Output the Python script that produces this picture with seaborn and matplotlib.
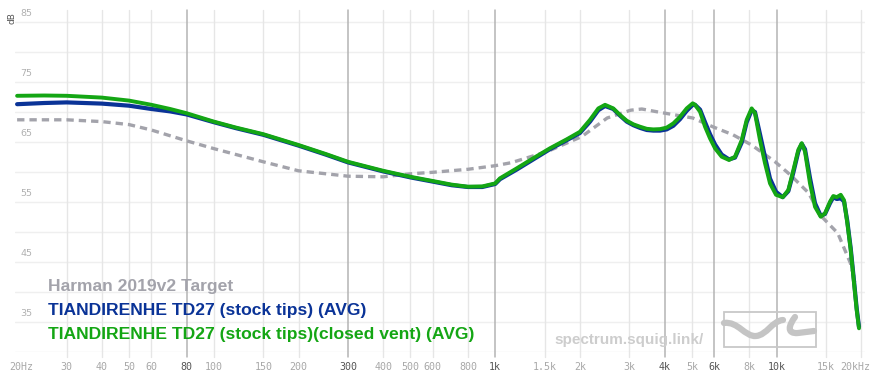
import numpy as np
import pandas as pd
import matplotlib
matplotlib.use("Agg")
import matplotlib.pyplot as plt
import matplotlib.transforms as mtransforms
import seaborn as sns
from matplotlib.path import Path
from matplotlib.patches import PathPatch, Rectangle

# ---------------- data ----------------
meas_freq = [20, 25, 30, 40, 50, 60, 70, 80, 100, 120, 150, 200, 250, 300, 400, 500,
             600, 700, 800, 900, 1000, 1040, 1192, 1366, 1565, 1796, 2000, 2173, 2326,
             2457, 2628, 2777, 2934, 3097, 3271, 3456, 3647, 3853, 4069, 4295, 4537,
             4793, 5035, 5130, 5345, 5568, 5800, 6042, 6380, 6776, 7116, 7516, 7830,
             8156, 8380, 8730, 9096, 9476, 9954, 10514, 11008, 11468, 11946, 12284,
             12616, 13144, 13694, 14348, 14860, 15482, 15906, 16356, 16900, 17364,
             17838, 18338, 18844, 19256, 19626]

green_db = [72.7, 72.75, 72.7, 72.4, 71.9, 71.2, 70.5, 69.8, 68.4, 67.4, 66.3, 64.5, 63.0,
            61.7, 60.2, 59.2, 58.5, 57.9, 57.55, 57.6, 58.1, 58.95, 60.6, 62.3, 63.95,
            65.45, 66.7, 68.7, 70.6, 71.2, 70.6, 69.5, 68.55, 67.95, 67.55, 67.2, 67.1,
            67.15, 67.4, 68.1, 69.2, 70.6, 71.45, 71.2, 70.05, 67.55, 65.6, 63.95, 62.55,
            62.0, 62.55, 65.3, 68.7, 70.6, 69.8, 65.3, 61.45, 58.1, 56.2, 55.8, 57.0,
            60.3, 63.7, 64.8, 63.4, 58.1, 54.2, 52.55, 53.1, 55.05, 56.0, 55.8, 56.2,
            55.3, 51.45, 47.0, 41.45, 37.0, 33.95]

blue_db = [71.3, 71.5, 71.6, 71.4, 71.05, 70.5, 70.1, 69.6, 68.3, 67.3, 66.2, 64.4, 62.9,
           61.6, 60.1, 59.1, 58.4, 57.8, 57.5, 57.5, 58.0, 58.8, 60.4, 62.1, 63.8, 65.3,
           66.5, 68.4, 70.3, 71.0, 70.5, 69.4, 68.4, 67.8, 67.35, 67.0, 66.9, 66.9, 67.1,
           67.7, 68.8, 70.2, 71.2, 71.2, 70.4, 68.3, 66.3, 64.6, 62.9, 62.1, 62.4, 64.9,
           68.3, 70.3, 70.0, 66.3, 62.5, 58.9, 56.7, 55.8, 56.8, 59.9, 63.4, 64.7, 63.8,
           59.0, 54.8, 52.7, 53.0, 54.8, 55.8, 55.5, 55.6, 55.1, 51.8, 47.3, 41.8, 37.3,
           34.2]

target_freq = [20, 30, 40, 50, 60, 80, 100, 150, 200, 300, 400, 500, 600, 800, 1000,
               1140, 1530, 2030, 2500, 3030, 3320, 3900, 5040, 5960, 7000, 8150, 9880,
               11200, 13000, 14300, 16500, 18300, 19000]
target_db = [68.7, 68.7, 68.4, 67.9, 67.0, 65.2, 63.9, 61.7, 60.2, 59.3, 59.2, 59.7, 59.95,
             60.45, 61.05, 61.55, 63.4, 65.9, 69.0, 70.3, 70.5, 69.9, 69.0, 67.5, 66.2,
             64.5, 61.7, 59.5, 56.5, 52.8, 49.8, 44.8, 41.7]

tick_freqs = [20, 30, 40, 50, 60, 80, 100, 150, 200, 300, 400, 500, 600, 800, 1000, 1500,
              2000, 3000, 4000, 5000, 6000, 8000, 10000, 15000, 20000]
tick_labels = ["20Hz", "30", "40", "50", "60", "80", "100", "150", "200", "300", "400",
               "500", "600", "800", "1k", "1.5k", "2k", "3k", "4k", "5k", "6k", "8k",
               "10k", "15k", "20kHz"]
major_ticks = [80, 300, 1000, 4000, 6000, 10000]
y_label_vals = [35, 45, 55, 65, 75, 85]

legend_names = ["Harman 2019v2 Target",
                "TIANDIRENHE TD27 (stock tips) (AVG)",
                "TIANDIRENHE TD27 (stock tips)(closed vent) (AVG)"]

C_TARGET = "#a3a3ab"
C_BLUE = "#0a3397"
C_GREEN = "#14a614"

# ---------------- figure ----------------
sns.set_theme(style="white")
plt.rcParams["font.family"] = ["Liberation Sans", "DejaVu Sans"]

W, H = 877, 379
PPD = 281.4      # pixels per decade
X20 = 17.1       # pixel of 20 Hz
fig = plt.figure(figsize=(W / 100, H / 100), dpi=100)
ax = fig.add_axes([15 / W, (H - 352) / H, 850 / W, 342 / H])

x_lo = 20 * 10 ** ((15 - X20) / PPD)
x_hi = 20 * 10 ** ((865 - X20) / PPD)
ax.set_xscale("log")
ax.set_xlim(x_lo, x_hi)
ax.set_ylim(30, 87)
for s in ax.spines.values():
    s.set_visible(False)

# horizontal grid every 5 dB
for v in range(30, 90, 5):
    ax.axhline(v, color="#efefef", lw=1.0, zorder=0)

# vertical grid
ext = -5 / 342
for f in tick_freqs[1:]:
    if f in major_ticks:
        ax.axvline(f, ymin=ext, ymax=1, color="#b4b4b4", lw=1.1, zorder=0.5, clip_on=False)
    else:
        ax.axvline(f, ymin=ext, ymax=1, color="#e6e6e6", lw=1.0, zorder=0.5, clip_on=False)

ax.set_xticks(tick_freqs)
ax.set_xticklabels(tick_labels)
ax.minorticks_off()
ax.tick_params(axis="x", length=0, pad=7, labelsize=7.2)
labs = ax.get_xticklabels()
for lab, f in zip(labs, tick_freqs):
    lab.set_family("DejaVu Sans Mono")
    lab.set_color("#555555" if f in major_ticks else "#a8a8a8")
labs[0].set_transform(labs[0].get_transform() +
                      mtransforms.ScaledTranslation(4.5 / 100, 0, fig.dpi_scale_trans))
labs[-1].set_transform(labs[-1].get_transform() +
                       mtransforms.ScaledTranslation(-6.5 / 100, 0, fig.dpi_scale_trans))
ax.set_yticks([])

# y labels inside
for v in y_label_vals:
    ax.text(20 * 10 ** (3 / PPD), v + 0.6, str(v), fontsize=6.8, color="#b0b0b0",
            va="bottom", ha="left", family="DejaVu Sans")
fig.text(12 / W, 1 - 18 / H, "dB", rotation=90, fontsize=6.5, color="#555555",
         ha="center", va="center", family="DejaVu Sans")

# curves
df_t = pd.DataFrame({"freq": target_freq, "db": target_db})
df_b = pd.DataFrame({"freq": meas_freq, "db": blue_db})
df_g = pd.DataFrame({"freq": meas_freq, "db": green_db})
sns.lineplot(data=df_t, x="freq", y="db", ax=ax, color=C_TARGET, lw=2.4,
             linestyle=(0, (2.2, 1.5)), zorder=3, estimator=None, sort=False)
sns.lineplot(data=df_b, x="freq", y="db", ax=ax, color=C_BLUE, lw=3.0, zorder=4,
             estimator=None, sort=False)
sns.lineplot(data=df_g, x="freq", y="db", ax=ax, color=C_GREEN, lw=2.8, zorder=5,
             estimator=None, sort=False)
for ln in ax.get_lines()[-3:]:
    ln.set_solid_joinstyle("round")
    ln.set_solid_capstyle("round")
ax.set_xlabel("")
ax.set_ylabel("")

# legend text
for name, col, yc in zip(legend_names, [C_TARGET, "#0a3397", C_GREEN], [287, 311, 335]):
    fig.text(48 / W, 1 - yc / H, name, color=col, fontsize=12.6, fontweight="bold",
             ha="left", va="center")

# watermark
fig.text(554 / W, 1 - 340 / H, "spectrum.squig.link/", color="#cdcdcd", fontsize=11.0,
         fontweight="bold", ha="left", va="center")

def px(x, y):
    return (x / W, 1 - y / H)

rect = Rectangle(px(724, 347), 92 / W, 35.5 / H, transform=fig.transFigure,
                 fill=False, edgecolor="#c8c8c8", lw=1.3, zorder=6)
fig.patches.append(rect)
verts = [px(724, 323), px(738, 321), px(745, 337), px(756, 336),
         px(767, 335), px(772, 321), px(783, 320),
         px(795, 317), px(789, 325), px(786, 334), px(798, 333),
         px(814, 331)]
codes = [Path.MOVETO, Path.CURVE4, Path.CURVE4, Path.CURVE4,
         Path.CURVE4, Path.CURVE4, Path.CURVE4,
         Path.MOVETO, Path.CURVE4, Path.CURVE4, Path.CURVE4,
         Path.LINETO]
squig = PathPatch(Path(verts, codes), transform=fig.transFigure, fill=False,
                  edgecolor="#c4c4c4", lw=4.5, capstyle="round", joinstyle="round",
                  zorder=6)
fig.patches.append(squig)

fig.savefig("out.png", dpi=100, facecolor="white")
